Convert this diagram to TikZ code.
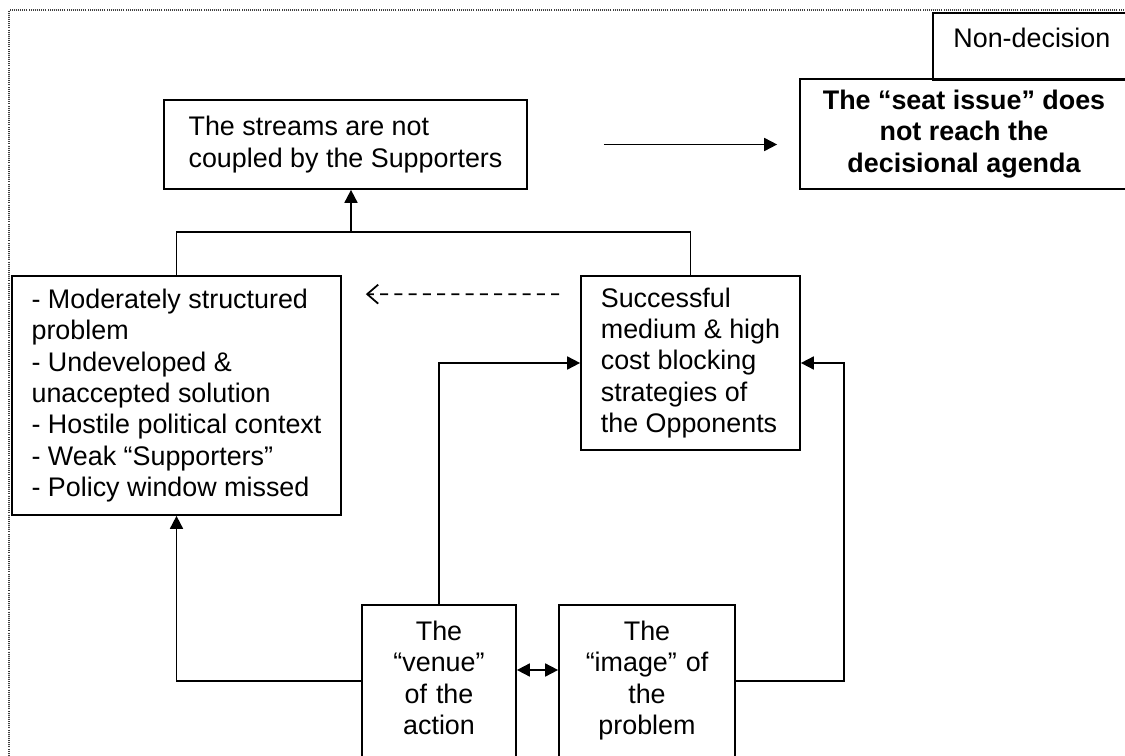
\documentclass[tikz,border=0pt]{standalone}
\usepackage{fontspec}
\setmainfont{Liberation Sans}
\usetikzlibrary{arrows.meta,calc}

\begin{document}
\begin{tikzpicture}[
  x=0.02cm, y=-0.02cm,
  font=\fontsize{15.3}{17.9}\selectfont,
  box/.style={draw, line width=1pt, inner ysep=0pt},
  txtl/.style={box, align=left},
  txtc/.style={box, align=center},
  ln/.style={line width=1pt},
  ar/.style={-{Triangle[length=2.6mm, width=2.6mm]}, line width=1pt},
  ar2/.style={{Triangle[length=2.6mm, width=2.6mm]}-{Triangle[length=2.6mm, width=2.6mm]}, line width=1pt},
  dsh/.style={-{Straight Barb[length=2.2mm, width=3.8mm]}, line width=1pt,
              dash pattern=on 1.6mm off 1.25mm},
  frm/.style={line width=0.8pt, black!75, dash pattern=on 0.5pt off 0.7pt},
]
\useasboundingbox (0,0) rectangle (1125,756);
\clip (0,0) rectangle (1125,756);

% ---- frame ----------------------------------------------------------------
\draw[frm] (1130,10) -- (9,10) -- (9,760);

% ---- boxes ----------------------------------------------------------------
\node[txtl, minimum width=7.26cm, minimum height=1.78cm] (streams) at (345.5,144.5)
  {The streams are not\\ coupled by the Supporters};
\node[txtc, minimum width=6.56cm, minimum height=2.2cm,
      font=\fontsize{15.3}{17.9}\selectfont\bfseries] (seat) at (964,134)
  {The “seat issue” does\\ not reach the\\ decisional agenda};
\node[box, anchor=north west, minimum width=3.96cm, inner ysep=0pt,
      text height=0.69cm, text depth=0.65cm] (nondec) at (932,12) {Non-decision};
\node[txtl, minimum width=6.58cm, minimum height=4.78cm] (cond) at (176.5,395.5)
  {- Moderately structured\\ problem\\ - Undeveloped \&\\ unaccepted solution\\
   - Hostile political context\\ - Weak “Supporters”\\ - Policy window missed};
\node[txtl, minimum width=4.38cm, minimum height=3.48cm] (succ) at (690.5,363)
  {Successful\\ medium \& high\\ cost blocking\\ strategies of\\ the Opponents};
\node[txtc, anchor=north, minimum width=3.08cm, text width=2.8cm, inner xsep=0pt,
      text height=0.71cm, text depth=3cm] (venue) at (439,604)
  {The\\ “venue”\\ of the\\ action};
\node[txtc, anchor=north, minimum width=3.52cm, text width=3.2cm, inner xsep=0pt,
      text height=0.71cm, text depth=3cm] (img) at (647,604)
  {The\\ “image” of\\ the\\ problem};

% ---- connectors -----------------------------------------------------------
\coordinate (hub) at (351,232);
\draw[ar] (hub) -- (hub |- streams.south);
\draw[ln] (cond.north) |- (hub) -| (succ.north);
\draw[ar, shorten <=1.52cm, shorten >=0.44cm] (streams.east) -- (streams.east -| seat.west);
\draw[dsh, shorten <=0.42cm, shorten >=0.48cm]
  ($(succ.north west)+(0,19)$) -- ($(cond.north east)+(0,19)$);
\draw[ar] (venue.north) |- (succ.west);
\draw[ar] ($(img.north east)+(0,77)$) -| ([xshift=0.86cm]succ.east) -- (succ.east);
\draw[ar] ($(venue.north west)+(0,77)$) -| (cond.south);
\draw[ar2] ($(venue.north east)+(0,66)$) -- ($(img.north west)+(0,66)$);

\end{tikzpicture}
\end{document}
